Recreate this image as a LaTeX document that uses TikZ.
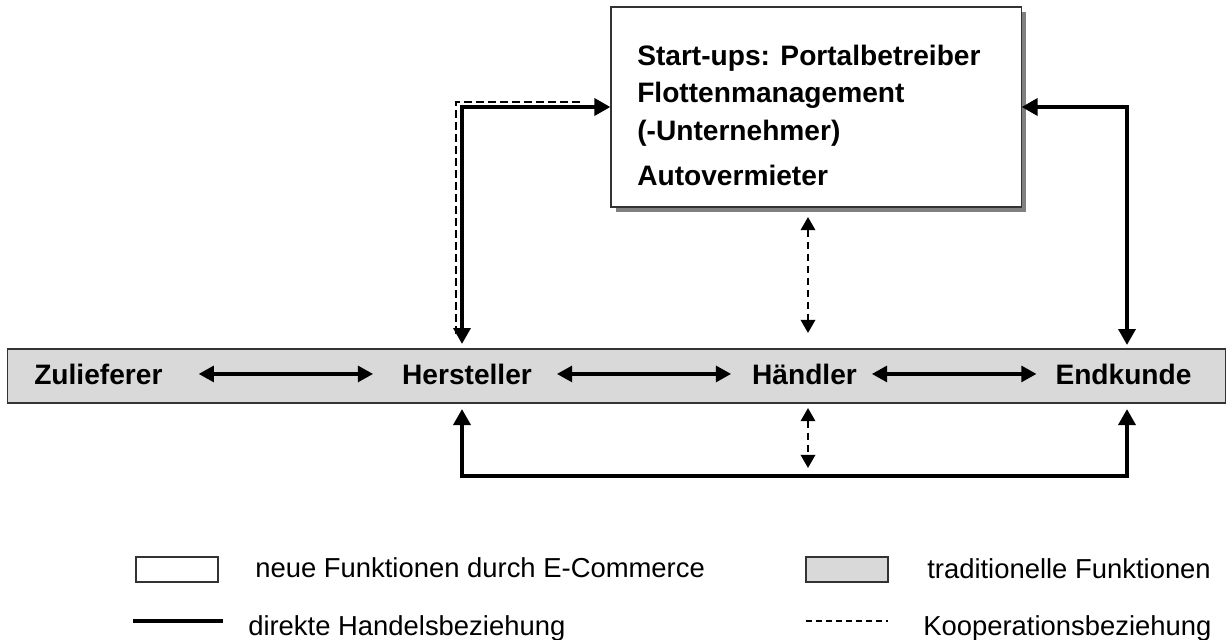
\documentclass[tikz,border=0pt]{standalone}
\usepackage{fontspec}
\setmainfont{Liberation Sans}
\usetikzlibrary{arrows.meta, positioning, shadows}
\tikzset{tradbox/.style={draw=black!80, line width=0.8pt, fill=black!15, inner sep=0pt}}
\tikzset{newbox/.style={draw=black!80, line width=0.8pt, fill=white, inner sep=0pt}}
\tikzset{shadowed/.style={drop shadow={shadow xshift=0.13cm, shadow yshift=-0.13cm, fill=black!50, opacity=1}}}
\tikzset{actor/.style={font=\fontsize{20}{26.7}\selectfont\bfseries, inner sep=0pt}}
\tikzset{keytext/.style={font=\fontsize{19.5}{23}\selectfont, inner sep=0pt, anchor=base west}}
\tikzset{direct/.style={line width=3.1pt, {Triangle[length=0.4cm, width=0.42cm]}-{Triangle[length=0.4cm, width=0.42cm]}}}
\tikzset{chain/.style={line width=2.2pt, {Triangle[length=0.38cm, width=0.4cm]}-{Triangle[length=0.38cm, width=0.4cm]}}}
\tikzset{coop/.style={line width=1.7pt, dash pattern=on 0.18cm off 0.12cm, {Triangle[length=0.33cm, width=0.36cm]}-{Triangle[length=0.33cm, width=0.36cm]}}}
\begin{document}
\begin{tikzpicture}[x=0.025cm, y=-0.025cm]
    \useasboundingbox (0,0) rectangle (1230,639);
    % traditionelle Kette
    \node[tradbox, minimum width=30.425cm, minimum height=1.35cm] (band) at (616.5,376) {};
    \node[actor, anchor=base west] (zul) at (34,384) {Zulieferer};
    \node[actor, anchor=base] (hers) at (467,384) {Hersteller};
    \node[actor, anchor=base] (haend) at (804.5,384) {Händler};
    \node[actor, anchor=base] (endk) at (1123.5,384) {Endkunde};
    \draw[chain, shorten <=0.9cm, shorten >=0.72cm] (zul.east) -- (hers.west);
    \draw[chain, shorten <=0.62cm, shorten >=0.52cm] (hers.east) -- (haend.west);
    \draw[chain, shorten <=0.37cm, shorten >=0.47cm] (haend.east) -- (endk.west);
    % neue Funktionen
    \node[newbox, shadowed, minimum width=10.25cm, minimum height=5cm] (portal) at (816,107) {};
    \node[actor, anchor=north west, align=left] (portaltext) at (637,44.6)
        {Start-ups: Portalbetreiber\\Flottenmanagement\\(-Unternehmer)\\[0.19cm]Autovermieter};
    \coordinate (hers top) at (462,344);
    \coordinate (hers bot) at (462,409);
    \coordinate (endk top) at (1127,345);
    \coordinate (endk bot) at (1127,409);
    \coordinate (loop) at (800,476);
    \coordinate (portal foot) at (808,217);
    \coordinate (haend top) at (808,333);
    \coordinate (haend bot) at (808,408);
    \coordinate (loop top) at (808,468);
    \coordinate (coop end) at (580,102);
    \coordinate (coop foot) at (456,335);
    \draw[line width=1.3pt, dash pattern=on 0.2cm off 0.1cm] (coop end) -| (coop foot);
    \draw[direct] (portal.west) -| (hers top);
    \draw[direct] (portal.east) -| (endk top);
    \draw[direct] (hers bot) |- (loop) -| (endk bot);
    \draw[coop] (portal foot) -- (haend top);
    \draw[coop] (haend bot) -- (loop top);
    % Legende
    \node[newbox, minimum width=2.05cm, minimum height=0.625cm] (keynew) at (177,569.5) {};
    \node[keytext] (keynewtext) at (255,577) {neue Funktionen durch E-Commerce};
    \node[tradbox, minimum width=2.05cm, minimum height=0.625cm] (keytrad) at (847,569.5) {};
    \node[keytext] (keytradtext) at (927,578) {traditionelle Funktionen};
    \coordinate (keydirect a) at (133,621);
    \coordinate (keydirect b) at (223,621);
    \draw[line width=2.7pt] (keydirect a) -- (keydirect b);
    \node[keytext] (keydirecttext) at (248,635) {direkte Handelsbeziehung};
    \coordinate (keycoop a) at (806,621);
    \coordinate (keycoop b) at (888,621);
    \draw[line width=1pt, dash pattern=on 0.15cm off 0.1cm] (keycoop a) -- (keycoop b);
    \node[keytext] (keycooptext) at (923,635) {Kooperationsbeziehung};
\end{tikzpicture}
\end{document}
